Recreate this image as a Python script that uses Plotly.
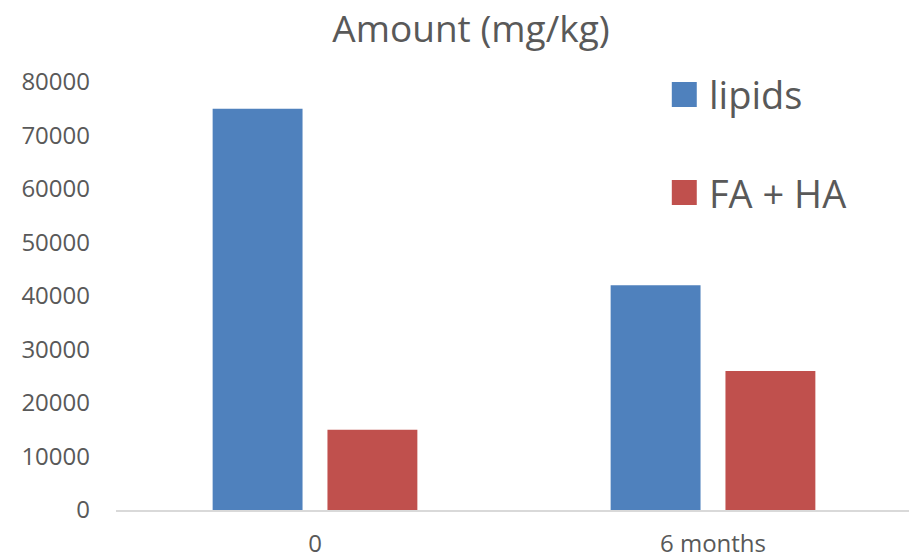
import plotly.graph_objects as go

# ---- data ----
categories = ["0", "6 months"]
series_names = ["lipids", "FA + HA"]
lipids = [75000, 42000]
fa_ha = [15000, 26000]
y_ticks = [0, 10000, 20000, 30000, 40000, 50000, 60000, 70000, 80000]
title_text = "Amount (mg/kg)"

colors = ["#4F81BD", "#C0504D"]
text_color = "#595959"
FONT = "Open Sans"

# page body has an 8px default margin; compensate so the window shows the reference layout
OFF = 8
W, H = 917 - OFF, 558 - OFF
L, R, T, B = 115.5 - OFF, 4.5, 82 - OFF, 48
PW, PH = W - L - R, H - T - B

fig = go.Figure()
for name, vals, col in zip(series_names, [lipids, fa_ha], colors):
    fig.add_bar(x=categories, y=vals, name=name, marker_color=col,
                marker_line_width=0, showlegend=False)

# manual legend (large swatches like the original); positions given in window pixels
def px_x(x):
    return (x - OFF - L) / PW

def px_y(y):
    return (H - B - (y - OFF)) / PH

legend_rows = [94.5, 192.5]
for name, col, yc in zip(series_names, colors, legend_rows):
    fig.add_shape(type="rect", xref="paper", yref="paper",
                  x0=px_x(672), x1=px_x(697), y0=px_y(yc + 12.5), y1=px_y(yc - 12.5),
                  fillcolor=col, line_width=0)
    fig.add_annotation(text=name, xref="paper", yref="paper",
                       x=px_x(707), y=px_y(yc), xanchor="left", yanchor="middle",
                       showarrow=False, font=dict(size=38, color=text_color, family=FONT))

fig.update_layout(
    width=W, height=H, autosize=False,
    margin=dict(l=L, r=R, t=T, b=B, pad=0, autoexpand=False),
    paper_bgcolor="white", plot_bgcolor="white",
    barmode="group", bargap=0.423, bargroupgap=0.217,
    font=dict(family=FONT, color=text_color),
    title=dict(text=title_text, x=(471 - OFF) / W, xanchor="center", xref="container",
               y=1 - (29 - OFF) / H, yanchor="middle", yref="container",
               font=dict(size=37, color=text_color, family=FONT)),
    xaxis=dict(showline=True, linecolor="#D9D9D9", linewidth=1.5, showgrid=False,
               zeroline=False, ticks="", tickfont=dict(size=24, color=text_color),
               ticklabelstandoff=11, automargin=False),
    yaxis=dict(range=[0, 80000], tickvals=y_ticks, ticktext=[str(v) for v in y_ticks],
               showline=False, showgrid=False, zeroline=False, ticks="",
               tickfont=dict(size=24, color=text_color), ticklabelstandoff=25,
               automargin=False),
)

fig.write_html("out.html")
